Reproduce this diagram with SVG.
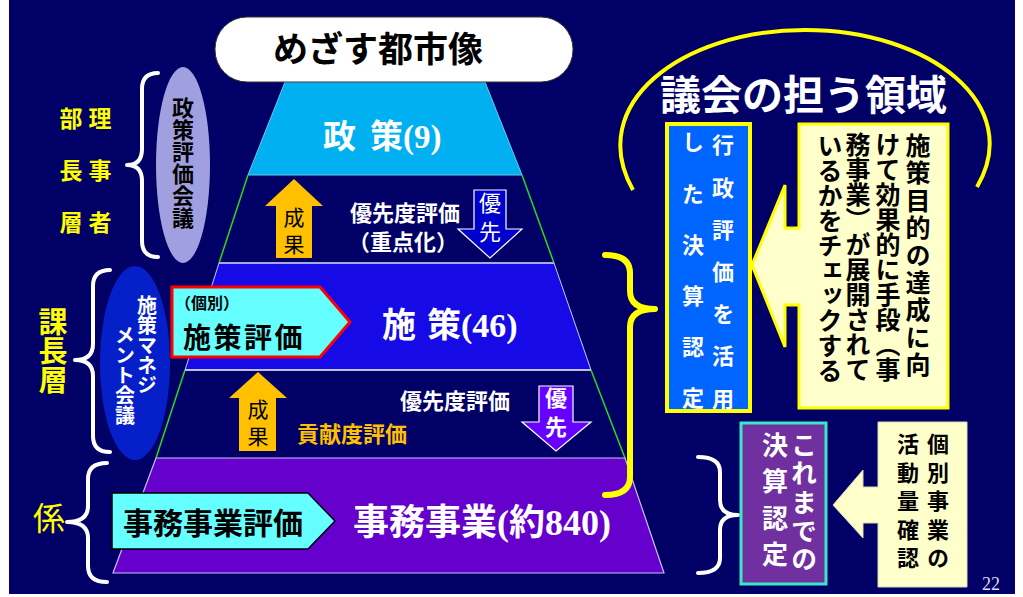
<svg xmlns="http://www.w3.org/2000/svg" width="1023" height="597" viewBox="0 0 1023 597">
<style>
.jp{font-family:"Noto Sans CJK JP","Noto Sans CJK SC",sans-serif}
.b{font-weight:bold}
.v{writing-mode:vertical-rl;text-anchor:start}
.se{font-family:"Liberation Serif","Noto Sans CJK JP",serif}
.brw{fill:none;stroke:#ffffff;stroke-width:4;stroke-linecap:round;stroke-linejoin:round}
.bry{fill:none;stroke:#ffff00;stroke-width:6;stroke-linecap:round;stroke-linejoin:round}
.up{fill:#ffc000}
.green{stroke:#22dd22;stroke-width:1.5}
</style>
<rect x="0" y="0" width="1023" height="597" fill="#ffffff"/>
<rect x="9" y="0" width="1006" height="594" fill="#000066"/>

<g id="pyramid">
  <polygon points="285,82 485,82 522,175 248,175" fill="#00b0f0" stroke="#66ccf0" stroke-width="1"/>
  <line class="green" x1="248" y1="175" x2="219" y2="263"/>
  <line class="green" x1="522" y1="175" x2="554" y2="263"/>
  <polygon points="219,263 554,263 591,370 185,370" fill="#160ae6"/>
  <line x1="219" y1="263" x2="554" y2="263" stroke="#a8a8e8" stroke-width="2"/>
  <line x1="185" y1="370" x2="591" y2="370" stroke="#ffffff" stroke-width="1.5"/>
  <line x1="219" y1="263" x2="185" y2="370" stroke="#c8c8ff" stroke-width="1"/>
  <line x1="554" y1="263" x2="591" y2="370" stroke="#c8c8ff" stroke-width="1"/>
  <line class="green" x1="185" y1="370" x2="156" y2="458"/>
  <line class="green" x1="591" y1="370" x2="625" y2="458"/>
  <polygon points="156,458 625,458 664,573 113,573" fill="#6600cc" stroke="#c8c0f0" stroke-width="1.2"/>
</g>

<g id="goal">
  <rect x="215" y="17" width="358" height="65" rx="32" ry="32" fill="#ffffff" stroke="#333333" stroke-width="1"/>
  <text class="jp b" x="273" y="62" font-size="35" fill="#000000">めざす都市像</text>
</g>

<g id="policy-label">
  <text class="jp b" x="323" y="148" font-size="33" fill="#ffffff">政<tspan x="370">策</tspan><tspan class="se">(9)</tspan></text>
</g>
<g id="measure-label">
  <text class="jp b" x="382" y="337" font-size="34" fill="#ffffff">施<tspan x="427">策</tspan><tspan class="se">(46)</tspan></text>
</g>
<g id="project-label">
  <text class="jp b" x="353" y="535" font-size="36" fill="#ffffff">事務事業<tspan class="se">(約840)</tspan></text>
</g>

<g id="band1-texts">
  <text class="jp b" x="350" y="221" font-size="22" fill="#ffffff">優先度評価</text>
  <text class="jp b" x="348" y="250" font-size="22" fill="#ffffff">（重点化）</text>
</g>
<g id="band2-texts">
  <text class="jp b" x="400" y="409" font-size="22" fill="#ffffff">優先度評価</text>
  <text class="jp b" x="297" y="442" font-size="22" fill="#ffc000">貢献度評価</text>
</g>

<g id="connectors">
  <g id="arrow-result-1">
    <polygon class="up" points="294,179 323,206 312,206 312,258 276,258 276,206 265,206"/>
    <text class="jp v" x="294" y="207" font-size="21" letter-spacing="6" fill="#000000">成果</text>
  </g>
  <g id="arrow-result-2">
    <polygon class="up" points="258,372 287,398 276,398 276,451 239,451 239,398 229,398"/>
    <text class="jp v" x="258" y="399" font-size="21" letter-spacing="6" fill="#000000">成果</text>
  </g>
  <g id="arrow-priority-1">
    <polygon points="474,190 506,190 506,229 522,229 490,258 458,229 474,229" fill="#0000cc" stroke="#ffffff" stroke-width="1.2"/>
    <text class="jp v" x="490" y="192" font-size="22" letter-spacing="7" fill="#ffffff">優先</text>
  </g>
  <g id="arrow-priority-2">
    <polygon points="539,386 573,386 573,422 591,422 556,451 522,422 539,422" fill="#6600ff" stroke="#ffffff" stroke-width="1.2"/>
    <text class="jp b v" x="556" y="387" font-size="22" letter-spacing="7" fill="#ffffff">優先</text>
  </g>
  <path class="brw" d="M158,73 Q142,73 142,89 L142,149 Q142,165 127,165 Q142,165 142,181 L142,241 Q142,257 158,257"/>
  <path class="brw" d="M110,270 Q93,270 93,286 L93,344 Q93,360 75,360 Q93,360 93,376 L93,436 Q93,452 110,452"/>
  <path class="brw" d="M107,463 Q88,463 88,479 L88,506 Q88,522 67,522 Q88,522 88,538 L88,566 Q88,582 107,582"/>
  <path class="brw" d="M698,457 Q720,457 720,472 L720,500 Q720,515 738,515 Q720,515 720,530 L720,558 Q720,573 698,573"/>
  <path class="bry" d="M605,255 Q630,255 630,273 L630,291 Q630,309 655,309 Q630,309 630,327 L630,477 Q630,495 605,495"/>
  <path fill="none" stroke="#ffff00" stroke-width="4" d="M633,190 C585,105 680,30 805,30 C930,30 1025,105 977,187"/>
</g>

<g id="officials">
  <text class="jp b v" x="100" y="106.5" font-size="23" letter-spacing="29" fill="#ffff00">理事者</text>
  <text class="jp b v" x="71" y="106.5" font-size="23" letter-spacing="29" fill="#ffff00">部長層</text>
</g>
<g id="policy-council">
  <ellipse cx="183" cy="165" rx="27" ry="98" fill="#a0a0e0"/>
  <text class="jp b v" x="183" y="97" font-size="22" fill="#000000">政策評価会議</text>
</g>
<g id="section-chiefs">
  <text class="jp b v" x="53" y="307.5" font-size="29" fill="#ffff00">課長層</text>
</g>
<g id="measure-council">
  <ellipse cx="135" cy="363" rx="35" ry="97" fill="#0520c8"/>
  <text class="jp b v" x="147" y="295" font-size="20" fill="#ffffff">施策マネジ</text>
  <text class="jp b v" x="125" y="325" font-size="20" fill="#ffffff">メント会議</text>
</g>
<g id="staff">
  <text class="jp" x="33" y="530" font-size="32" fill="#ffff00">係</text>
</g>

<g id="measure-eval">
  <path d="M172,287 H320 L350,322 L320,357 H172 Z" fill="#66ffff" stroke="#ff0000" stroke-width="3"/>
  <text class="jp b" x="175" y="309" font-size="16" fill="#000000">（個別）</text>
  <text class="jp b" x="183" y="348" font-size="28" letter-spacing="2.5" fill="#000000">施策評価</text>
</g>
<g id="project-eval">
  <path d="M112,493 H308 L335,521 L308,549 H112 Z" fill="#66ffff" stroke="#000000" stroke-width="1.5"/>
  <text class="jp b" x="123" y="534" font-size="30" fill="#000000">事務事業評価</text>
</g>

<g id="council-title">
  <text class="jp b" x="660" y="110" font-size="41" fill="#ffffff">議会の担う領域</text>
</g>
<g id="settlement-admin">
  <rect x="667" y="124" width="83" height="287" fill="#0066ff" stroke="#ffff00" stroke-width="4"/>
  <text class="jp b v" x="723" y="134" font-size="22" letter-spacing="20.2" fill="#ffffff">行政評価を活用</text>
  <text class="jp b v" x="693" y="131" font-size="22" letter-spacing="29.2" fill="#ffffff">した決算認定</text>
</g>
<g id="check-callout">
  <path d="M799,124 H948 V408 H799 V305 H785 V347 L752,265 L785,185 V228 H799 Z" fill="#ffffcc" stroke="#ffff00" stroke-width="3"/>
  <text class="jp b v" x="918" y="133" font-size="25" letter-spacing="2.4" fill="#000000">施策目的の達成に向</text>
  <text class="jp b v" x="888" y="132" font-size="25" fill="#000000">けて効果的に手段（事</text>
  <text class="jp b v" x="858" y="132" font-size="25" fill="#000000">務事業）が展開されて</text>
  <text class="jp b v" x="830" y="133" font-size="25" fill="#000000">いるかをチェックする</text>
</g>
<g id="settlement-past">
  <rect x="741" y="423" width="85" height="161" fill="#7030a0" stroke="#3ce6c8" stroke-width="3"/>
  <text class="jp b v" x="804" y="432" font-size="26" letter-spacing="2.6" fill="#ffffff">これまでの</text>
  <text class="jp b v" x="775" y="432" font-size="26" letter-spacing="10.5" fill="#ffffff">決算認定</text>
</g>
<g id="activity-callout">
  <path d="M878,422 H967 V587 H878 V523 H863 V538 L833,505 L863,470 V487 H878 Z" fill="#ffffcc" stroke="#d8d8b0" stroke-width="1"/>
  <text class="jp b v" x="938" y="433" font-size="22" letter-spacing="6.4" fill="#000000">個別事業の</text>
  <text class="jp b v" x="908" y="433" font-size="22" letter-spacing="6.4" fill="#000000">活動量確認</text>
</g>
<g id="page-number">
  <text class="se" x="982" y="590" font-size="18" fill="#dcdcf0">22</text>
</g>
</svg>
